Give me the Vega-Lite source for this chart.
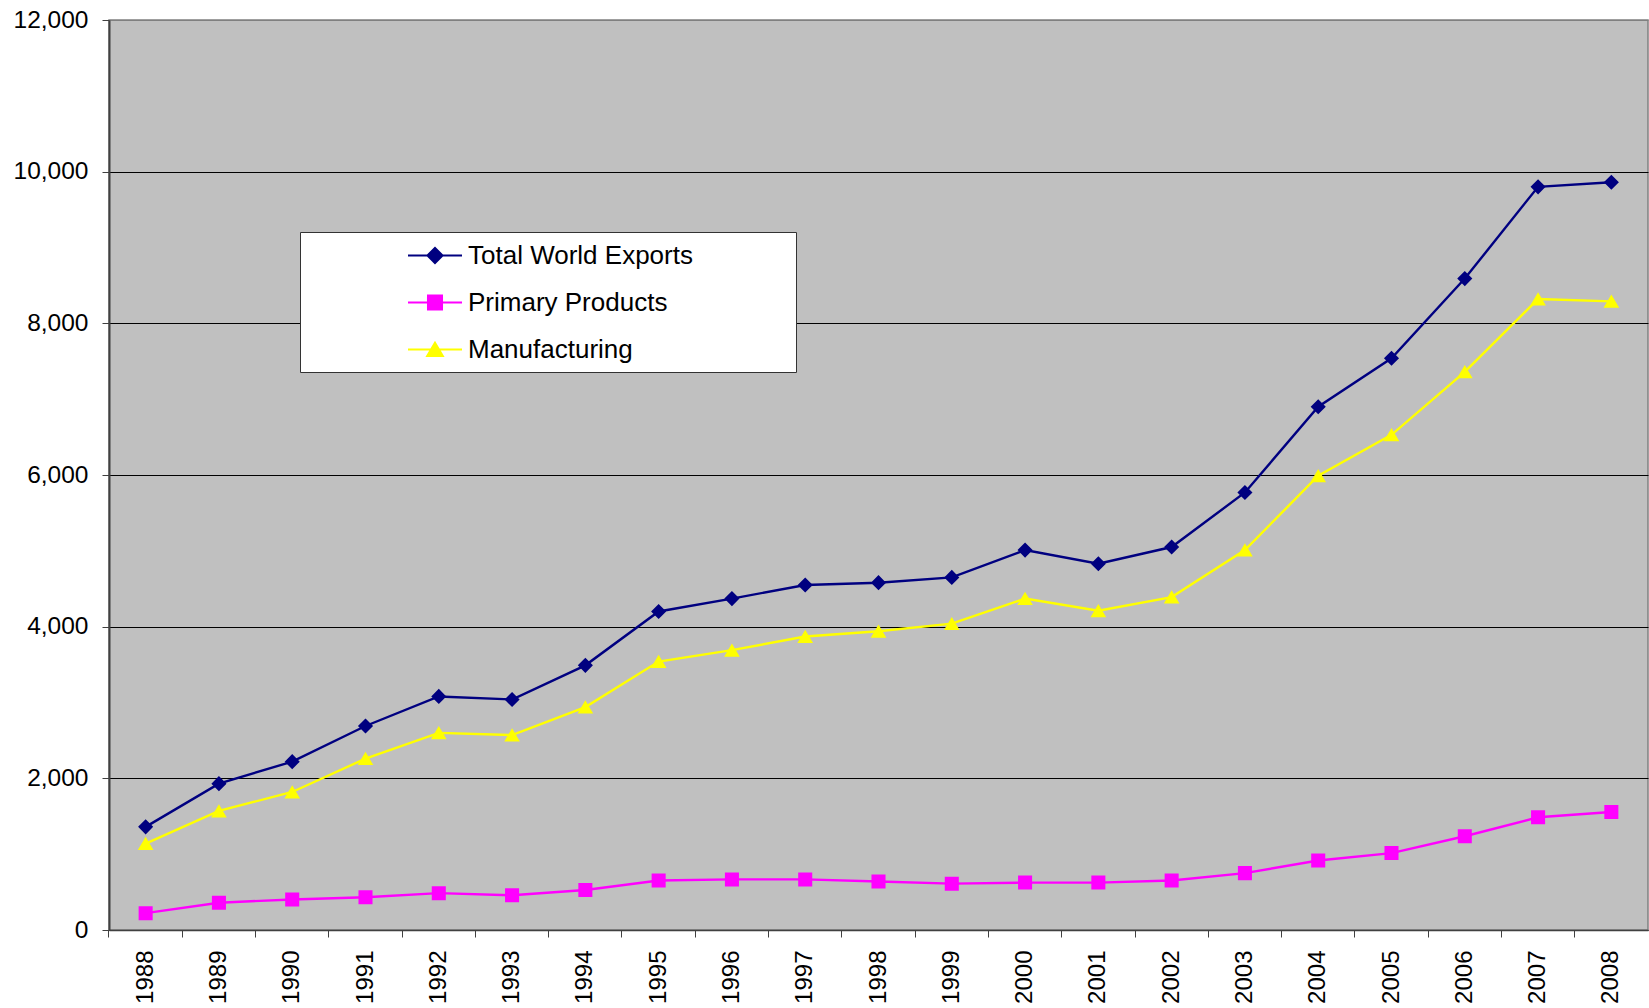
{
  "$schema": "https://vega.github.io/schema/vega-lite/v6.json",
  "width": 1539,
  "height": 910,
  "autosize": {"type": "none"},
  "padding": {"left": 109, "top": 20, "right": 1, "bottom": 78},
  "background": "white",
  "config": {
    "font": "Liberation Sans",
    "view": {"fill": "#C0C0C0", "stroke": "#808080", "strokeWidth": 1.5},
    "legend": {
      "orient": "none",
      "legendX": 191,
      "legendY": 212,
      "fillColor": "white",
      "strokeColor": "#333333",
      "padding": 9,
      "rowPadding": 19,
      "symbolSize": 729,
      "symbolOffset": 111.5,
      "symbolStrokeWidth": 2,
      "symbolOpacity": 1,
      "labelOffset": 18.5,
      "labelFontSize": 26,
      "labelColor": "black",
      "labelLimit": 600
    }
  },
  "data": {
    "values": [
      {"year": "1988", "series": "Total World Exports", "value": 1360},
      {"year": "1989", "series": "Total World Exports", "value": 1930},
      {"year": "1990", "series": "Total World Exports", "value": 2220},
      {"year": "1991", "series": "Total World Exports", "value": 2690},
      {"year": "1992", "series": "Total World Exports", "value": 3080},
      {"year": "1993", "series": "Total World Exports", "value": 3040},
      {"year": "1994", "series": "Total World Exports", "value": 3490},
      {"year": "1995", "series": "Total World Exports", "value": 4200},
      {"year": "1996", "series": "Total World Exports", "value": 4370},
      {"year": "1997", "series": "Total World Exports", "value": 4550},
      {"year": "1998", "series": "Total World Exports", "value": 4580},
      {"year": "1999", "series": "Total World Exports", "value": 4650},
      {"year": "2000", "series": "Total World Exports", "value": 5010},
      {"year": "2001", "series": "Total World Exports", "value": 4830},
      {"year": "2002", "series": "Total World Exports", "value": 5050},
      {"year": "2003", "series": "Total World Exports", "value": 5770},
      {"year": "2004", "series": "Total World Exports", "value": 6900},
      {"year": "2005", "series": "Total World Exports", "value": 7540},
      {"year": "2006", "series": "Total World Exports", "value": 8590},
      {"year": "2007", "series": "Total World Exports", "value": 9800},
      {"year": "2008", "series": "Total World Exports", "value": 9860},
      {"year": "1988", "series": "Primary Products", "value": 222},
      {"year": "1989", "series": "Primary Products", "value": 360},
      {"year": "1990", "series": "Primary Products", "value": 403},
      {"year": "1991", "series": "Primary Products", "value": 431},
      {"year": "1992", "series": "Primary Products", "value": 486},
      {"year": "1993", "series": "Primary Products", "value": 458},
      {"year": "1994", "series": "Primary Products", "value": 528},
      {"year": "1995", "series": "Primary Products", "value": 653},
      {"year": "1996", "series": "Primary Products", "value": 667},
      {"year": "1997", "series": "Primary Products", "value": 667},
      {"year": "1998", "series": "Primary Products", "value": 639},
      {"year": "1999", "series": "Primary Products", "value": 611},
      {"year": "2000", "series": "Primary Products", "value": 625},
      {"year": "2001", "series": "Primary Products", "value": 625},
      {"year": "2002", "series": "Primary Products", "value": 653},
      {"year": "2003", "series": "Primary Products", "value": 750},
      {"year": "2004", "series": "Primary Products", "value": 917},
      {"year": "2005", "series": "Primary Products", "value": 1014},
      {"year": "2006", "series": "Primary Products", "value": 1236},
      {"year": "2007", "series": "Primary Products", "value": 1486},
      {"year": "2008", "series": "Primary Products", "value": 1556},
      {"year": "1988", "series": "Manufacturing", "value": 1140},
      {"year": "1989", "series": "Manufacturing", "value": 1570},
      {"year": "1990", "series": "Manufacturing", "value": 1820},
      {"year": "1991", "series": "Manufacturing", "value": 2260},
      {"year": "1992", "series": "Manufacturing", "value": 2600},
      {"year": "1993", "series": "Manufacturing", "value": 2570},
      {"year": "1994", "series": "Manufacturing", "value": 2940},
      {"year": "1995", "series": "Manufacturing", "value": 3540},
      {"year": "1996", "series": "Manufacturing", "value": 3690},
      {"year": "1997", "series": "Manufacturing", "value": 3870},
      {"year": "1998", "series": "Manufacturing", "value": 3940},
      {"year": "1999", "series": "Manufacturing", "value": 4040},
      {"year": "2000", "series": "Manufacturing", "value": 4370},
      {"year": "2001", "series": "Manufacturing", "value": 4210},
      {"year": "2002", "series": "Manufacturing", "value": 4390},
      {"year": "2003", "series": "Manufacturing", "value": 5010},
      {"year": "2004", "series": "Manufacturing", "value": 5990},
      {"year": "2005", "series": "Manufacturing", "value": 6530},
      {"year": "2006", "series": "Manufacturing", "value": 7360},
      {"year": "2007", "series": "Manufacturing", "value": 8320},
      {"year": "2008", "series": "Manufacturing", "value": 8290}
    ]
  },
  "encoding": {
    "x": {
      "field": "year",
      "type": "ordinal",
      "scale": {"type": "band", "paddingInner": 0, "paddingOuter": 0},
      "axis": {
        "title": null,
        "labelAngle": 270,
        "labelFontSize": 24,
        "labelColor": "black",
        "labelPadding": 13,
        "tickSize": 7,
        "tickColor": "#404040",
        "bandPosition": 0,
        "domainColor": "#404040",
        "domainWidth": 1.5,
        "grid": false
      }
    },
    "y": {
      "field": "value",
      "type": "quantitative",
      "scale": {"domain": [0, 12000], "nice": false},
      "axis": {
        "title": null,
        "values": [0, 2000, 4000, 6000, 8000, 10000, 12000],
        "format": ",.0f",
        "labelFontSize": 24.5,
        "labelColor": "black",
        "labelPadding": 14,
        "tickSize": 7,
        "tickColor": "#404040",
        "domainColor": "#404040",
        "domainWidth": 2,
        "grid": true,
        "gridColor": {"condition": {"test": "datum.value == 12000", "value": "#808080"}, "value": "black"},
        "gridWidth": 1,
        "gridOpacity": 1
      }
    },
    "color": {
      "field": "series",
      "type": "nominal",
      "title": null,
      "scale": {
        "domain": ["Total World Exports", "Primary Products", "Manufacturing"],
        "range": ["#000080", "#FF00FF", "#FFFF00"]
      },
      "legend": {
        "labelExpr": "datum.label + '\u00a0\u00a0\u00a0\u00a0\u00a0\u00a0\u00a0\u00a0\u00a0\u00a0\u00a0\u00a0\u00a0\u200b'"
      }
    }
  },
  "layer": [
    {
      "mark": {"type": "line", "strokeWidth": 2.4}
    },
    {
      "mark": {"type": "point", "filled": true, "opacity": 1, "size": 729},
      "encoding": {
        "shape": {
          "field": "series",
          "type": "nominal",
          "title": null,
          "scale": {
            "domain": ["Total World Exports", "Primary Products", "Manufacturing"],
            "range": [
              "M-2,0H2M-0.56,0L0,-0.56L0.56,0L0,0.56Z",
              "M-2,0H2M-0.52,-0.52H0.52V0.52H-0.52Z",
              "M-2,0H2M0,-0.5L0.58,0.48H-0.58Z"
            ]
          },
          "legend": {
            "labelExpr": "datum.label + '\u00a0\u00a0\u00a0\u00a0\u00a0\u00a0\u00a0\u00a0\u00a0\u00a0\u00a0\u00a0\u00a0\u200b'"
          }
        }
      }
    }
  ]
}
